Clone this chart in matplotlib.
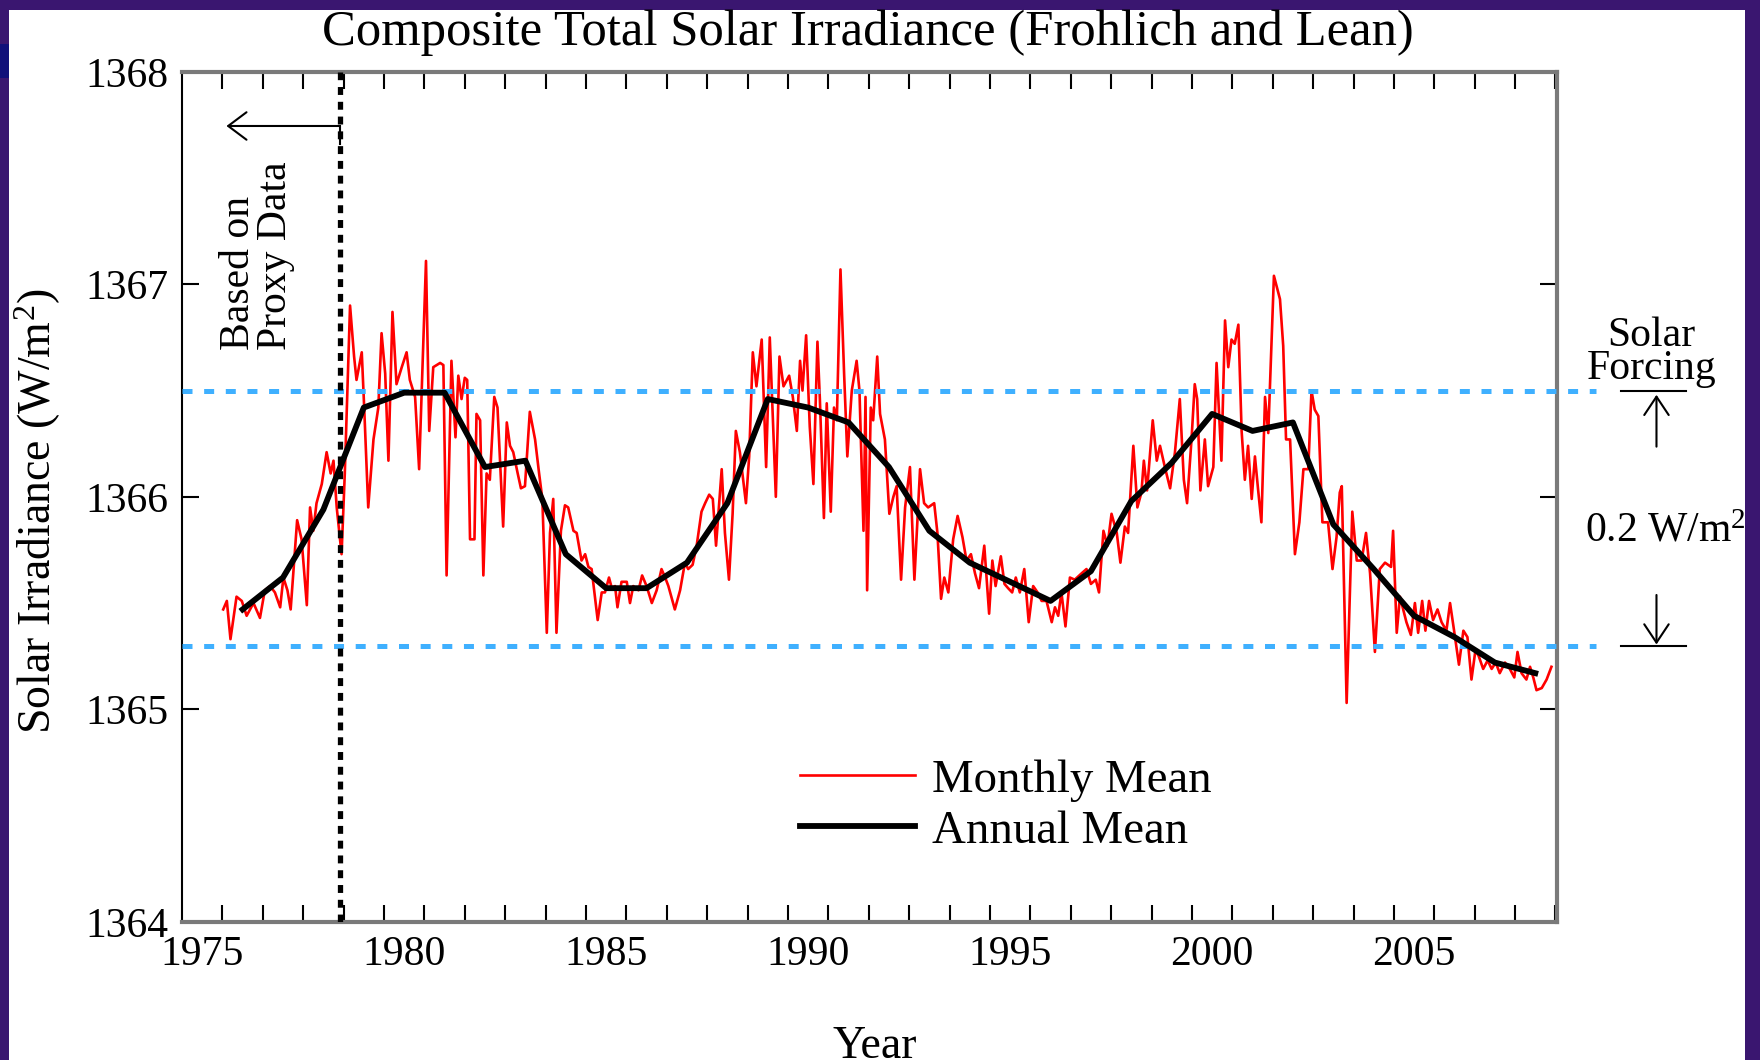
import numpy as np
import matplotlib
matplotlib.use('Agg')
import matplotlib.pyplot as plt
from matplotlib.patches import Rectangle

plt.rcParams['font.family'] = ['Liberation Serif', 'DejaVu Serif']
plt.rcParams['mathtext.fontset'] = 'custom'
plt.rcParams['mathtext.rm'] = 'Liberation Serif'
plt.rcParams['mathtext.it'] = 'Liberation Serif:italic'

# annual means (W/m^2)
annual_year = list(range(1976, 2009))
annual_tsi = [1365.47, 1365.62, 1365.94, 1366.42, 1366.49, 1366.49, 1366.14, 1366.17,
              1365.73, 1365.57, 1365.57, 1365.69, 1365.97, 1366.46, 1366.42, 1366.35,
              1366.14, 1365.84, 1365.69, 1365.60, 1365.51, 1365.65, 1365.98, 1366.16,
              1366.39, 1366.31, 1366.35, 1365.87, 1365.66, 1365.44, 1365.34, 1365.22,
              1365.17]

# monthly means
monthly_year = [
    1975.52, 1975.61, 1975.70, 1975.85, 1975.98, 1976.10, 1976.27, 1976.43, 1976.55, 1976.68,
    1976.80, 1976.93, 1977.01, 1977.11, 1977.19, 1977.35, 1977.46, 1977.59, 1977.67, 1977.75,
    1977.83, 1977.96, 1978.08, 1978.18, 1978.25, 1978.33, 1978.45, 1978.53, 1978.66, 1978.76,
    1978.82, 1978.95, 1979.01, 1979.11, 1979.24, 1979.36, 1979.44, 1979.53, 1979.61, 1979.71,
    1979.81, 1979.94, 1980.06, 1980.14, 1980.27, 1980.37, 1980.54, 1980.62, 1980.72, 1980.89,
    1980.97, 1981.05, 1981.17, 1981.27, 1981.34, 1981.42, 1981.50, 1981.56, 1981.63, 1981.74,
    1981.79, 1981.88, 1981.96, 1982.04, 1982.12, 1982.23, 1982.31, 1982.45, 1982.54, 1982.62,
    1982.70, 1982.81, 1982.89, 1982.99, 1983.11, 1983.24, 1983.34, 1983.42, 1983.53, 1983.61,
    1983.69, 1983.77, 1983.88, 1983.98, 1984.06, 1984.19, 1984.27, 1984.39, 1984.48, 1984.56,
    1984.64, 1984.79, 1984.89, 1984.97, 1985.07, 1985.14, 1985.22, 1985.28, 1985.38, 1985.51,
    1985.59, 1985.67, 1985.80, 1985.89, 1986.00, 1986.13, 1986.25, 1986.37, 1986.46, 1986.54,
    1986.70, 1986.83, 1986.95, 1987.03, 1987.14, 1987.24, 1987.36, 1987.45, 1987.55, 1987.64,
    1987.72, 1987.86, 1987.94, 1988.04, 1988.13, 1988.21, 1988.31, 1988.46, 1988.54, 1988.63,
    1988.72, 1988.85, 1988.96, 1989.05, 1989.20, 1989.29, 1989.39, 1989.53, 1989.62, 1989.72,
    1989.80, 1989.86, 1989.95, 1990.04, 1990.13, 1990.23, 1990.29, 1990.39, 1990.46, 1990.56,
    1990.64, 1990.71, 1990.80, 1990.89, 1990.97, 1991.08, 1991.20, 1991.27, 1991.37, 1991.42,
    1991.46, 1991.55, 1991.61, 1991.71, 1991.78, 1991.90, 1992.01, 1992.11, 1992.19, 1992.30,
    1992.40, 1992.52, 1992.63, 1992.77, 1992.87, 1992.97, 1993.12, 1993.20, 1993.29, 1993.37,
    1993.47, 1993.59, 1993.70, 1993.82, 1993.92, 1994.03, 1994.13, 1994.23, 1994.36, 1994.48,
    1994.56, 1994.64, 1994.77, 1994.86, 1994.95, 1995.05, 1995.14, 1995.24, 1995.35, 1995.46,
    1995.57, 1995.68, 1995.78, 1995.90, 1996.03, 1996.11, 1996.19, 1996.27, 1996.37, 1996.48,
    1996.60, 1996.77, 1996.89, 1997.00, 1997.12, 1997.20, 1997.31, 1997.41, 1997.51, 1997.64,
    1997.73, 1997.84, 1997.92, 1998.05, 1998.15, 1998.25, 1998.31, 1998.39, 1998.53, 1998.63,
    1998.71, 1998.83, 1998.96, 1999.08, 1999.20, 1999.30, 1999.38, 1999.49, 1999.57, 1999.63,
    1999.71, 1999.82, 1999.90, 2000.03, 2000.11, 2000.23, 2000.32, 2000.40, 2000.48, 2000.56,
    2000.65, 2000.73, 2000.81, 2000.89, 2000.98, 2001.06, 2001.14, 2001.22, 2001.31, 2001.39,
    2001.53, 2001.68, 2001.76, 2001.83, 2001.93, 2002.05, 2002.16, 2002.26, 2002.38, 2002.46,
    2002.54, 2002.63, 2002.73, 2002.87, 2002.98, 2003.08, 2003.16, 2003.21, 2003.33, 2003.47,
    2003.58, 2003.70, 2003.81, 2003.91, 2004.03, 2004.15, 2004.28, 2004.43, 2004.48, 2004.57,
    2004.65, 2004.81, 2004.92, 2005.02, 2005.10, 2005.20, 2005.28, 2005.37, 2005.47, 2005.58,
    2005.68, 2005.80, 2005.89, 2005.99, 2006.11, 2006.22, 2006.32, 2006.42, 2006.52, 2006.60,
    2006.71, 2006.82, 2006.92, 2007.02, 2007.12, 2007.25, 2007.37, 2007.48, 2007.56, 2007.66,
    2007.78, 2007.87, 2007.95, 2008.03, 2008.16, 2008.28, 2008.40]
monthly_tsi = [
    1365.47, 1365.51, 1365.33, 1365.53, 1365.51, 1365.44, 1365.50, 1365.43, 1365.56, 1365.58,
    1365.55, 1365.48, 1365.62, 1365.56, 1365.47, 1365.89, 1365.80, 1365.49, 1365.95, 1365.84,
    1365.97, 1366.06, 1366.21, 1366.11, 1366.17, 1365.95, 1365.73, 1366.11, 1366.90, 1366.66,
    1366.55, 1366.68, 1366.42, 1365.95, 1366.27, 1366.42, 1366.77, 1366.58, 1366.17, 1366.87,
    1366.53, 1366.61, 1366.68, 1366.55, 1366.47, 1366.13, 1367.11, 1366.31, 1366.61, 1366.63,
    1366.62, 1365.63, 1366.64, 1366.28, 1366.57, 1366.46, 1366.56, 1366.55, 1365.80, 1365.80,
    1366.39, 1366.36, 1365.63, 1366.11, 1366.08, 1366.47, 1366.42, 1365.86, 1366.35, 1366.24,
    1366.21, 1366.11, 1366.04, 1366.05, 1366.40, 1366.27, 1366.11, 1365.99, 1365.36, 1365.83,
    1365.99, 1365.36, 1365.84, 1365.96, 1365.95, 1365.84, 1365.83, 1365.70, 1365.73, 1365.67,
    1365.66, 1365.42, 1365.55, 1365.55, 1365.62, 1365.57, 1365.58, 1365.48, 1365.60, 1365.60,
    1365.50, 1365.58, 1365.56, 1365.63, 1365.58, 1365.50, 1365.56, 1365.66, 1365.62, 1365.58,
    1365.47, 1365.56, 1365.69, 1365.66, 1365.68, 1365.77, 1365.93, 1365.97, 1366.01, 1365.99,
    1365.77, 1366.13, 1365.83, 1365.61, 1365.92, 1366.31, 1366.21, 1365.97, 1366.19, 1366.68,
    1366.52, 1366.74, 1366.14, 1366.75, 1366.00, 1366.66, 1366.52, 1366.57, 1366.47, 1366.31,
    1366.64, 1366.50, 1366.76, 1366.33, 1366.06, 1366.73, 1366.46, 1365.90, 1366.44, 1365.93,
    1366.42, 1366.36, 1367.07, 1366.58, 1366.19, 1366.50, 1366.64, 1366.50, 1365.84, 1366.47,
    1365.56, 1366.42, 1366.36, 1366.66, 1366.39, 1366.27, 1365.92, 1366.00, 1366.05, 1365.61,
    1365.95, 1366.14, 1365.61, 1366.13, 1365.97, 1365.95, 1365.97, 1365.83, 1365.52, 1365.62,
    1365.55, 1365.80, 1365.91, 1365.81, 1365.70, 1365.73, 1365.64, 1365.57, 1365.77, 1365.45,
    1365.70, 1365.58, 1365.72, 1365.59, 1365.57, 1365.55, 1365.62, 1365.55, 1365.66, 1365.41,
    1365.58, 1365.55, 1365.51, 1365.51, 1365.41, 1365.48, 1365.44, 1365.55, 1365.39, 1365.62,
    1365.61, 1365.64, 1365.66, 1365.59, 1365.61, 1365.55, 1365.84, 1365.77, 1365.92, 1365.83,
    1365.69, 1365.86, 1365.83, 1366.24, 1365.95, 1366.02, 1366.17, 1366.03, 1366.36, 1366.17,
    1366.24, 1366.14, 1366.04, 1366.21, 1366.46, 1366.08, 1365.97, 1366.27, 1366.53, 1366.46,
    1366.03, 1366.27, 1366.05, 1366.14, 1366.63, 1366.17, 1366.83, 1366.61, 1366.74, 1366.72,
    1366.81, 1366.31, 1366.08, 1366.24, 1365.99, 1366.19, 1366.03, 1365.88, 1366.47, 1366.30,
    1367.04, 1366.93, 1366.71, 1366.27, 1366.27, 1365.73, 1365.88, 1366.13, 1366.13, 1366.50,
    1366.41, 1366.38, 1365.88, 1365.88, 1365.66, 1365.81, 1366.02, 1366.05, 1365.03, 1365.93,
    1365.70, 1365.70, 1365.83, 1365.64, 1365.27, 1365.66, 1365.69, 1365.67, 1365.84, 1365.36,
    1365.53, 1365.41, 1365.35, 1365.50, 1365.36, 1365.51, 1365.37, 1365.51, 1365.42, 1365.47,
    1365.41, 1365.37, 1365.50, 1365.37, 1365.21, 1365.37, 1365.34, 1365.14, 1365.28, 1365.25,
    1365.19, 1365.23, 1365.19, 1365.22, 1365.17, 1365.22, 1365.19, 1365.15, 1365.27, 1365.17,
    1365.14, 1365.20, 1365.15, 1365.09, 1365.10, 1365.14, 1365.20]

forcing_levels = [1366.5, 1365.3]
proxy_end = 1978.4
xtick_years = [1975, 1980, 1985, 1990, 1995, 2000, 2005]
ytick_vals = [1364, 1365, 1366, 1367, 1368]

W, H = 1760, 1060
fig = plt.figure(figsize=(W / 100, H / 100), dpi=100)
fig.patch.set_facecolor('#3a1670')
fig.add_artist(Rectangle((9 / W, 0), (1745 - 9) / W, 1 - 10 / H, transform=fig.transFigure,
                         facecolor='white', edgecolor='none', zorder=-2))
fig.add_artist(Rectangle((0, 1 - 78 / H), 9 / W, 34 / H, transform=fig.transFigure,
                         facecolor='#10107a', edgecolor='none', zorder=-2))

ax = fig.add_axes([182 / W, 1 - 921.8 / H, (1556.7 - 182) / W, 850 / H])
ax.set_xlim(1974.5, 2008.53)
ax.set_ylim(1364, 1368)

ax.plot(monthly_year, monthly_tsi, color='red', lw=1.9, label='Monthly Mean', zorder=2)
ax.plot(annual_year, annual_tsi, color='black', lw=4.2, label='Annual Mean', zorder=4)

blue = '#3fb0ff'
for lvl in forcing_levels:
    ax.plot([1974.5, 2009.5], [lvl, lvl], color=blue, lw=3.6, dashes=(2.0, 2.33),
            clip_on=False, zorder=3)

ax.plot([proxy_end, proxy_end], [1364, 1368], color='black', lw=3.8, dashes=(1.5, 1.3), zorder=5)
ax.plot([proxy_end, proxy_end], [1367.745, 1367.66], color='black', lw=1.5, zorder=5)
ax.annotate('', xy=(1975.6, 1367.745), xytext=(proxy_end, 1367.745),
            arrowprops=dict(arrowstyle='->,head_length=0.6,head_width=0.45', lw=1.5,
                            color='black', shrinkA=0, shrinkB=0, mutation_scale=22))
ax.text(1976.37, 1366.69, 'Based on\nProxy Data', rotation=90, ha='center', va='bottom',
        multialignment='left', fontsize=30, linespacing=0.95)

# solar forcing annotation to the right of the frame
for lvl in forcing_levels:
    ax.plot([2010.13, 2011.73], [lvl, lvl], color='black', lw=1.5, clip_on=False)
ax.annotate('', xy=(2011.0, forcing_levels[0] - 0.02), xytext=(2011.0, 1366.236),
            annotation_clip=False,
            arrowprops=dict(arrowstyle='->,head_length=0.6,head_width=0.4', lw=1.5,
                            color='black', shrinkA=0, shrinkB=0, mutation_scale=22))
ax.annotate('', xy=(2011.0, forcing_levels[1] + 0.005), xytext=(2011.0, 1365.538),
            annotation_clip=False,
            arrowprops=dict(arrowstyle='->,head_length=0.6,head_width=0.4', lw=1.5,
                            color='black', shrinkA=0, shrinkB=0, mutation_scale=22))
ax.text(2010.88, 1366.556, 'Solar\nForcing', ha='center', va='baseline', fontsize=30,
        linespacing=0.8, clip_on=False)
ax.text(2009.23, 1365.792, '0.2 W/m$^2$', ha='left', va='baseline', fontsize=30, clip_on=False)

for side in ['top', 'bottom', 'right']:
    ax.spines[side].set_color('#7a7a7a')
    ax.spines[side].set_linewidth(3)
ax.spines['left'].set_color('black')
ax.spines['left'].set_linewidth(1.5)

ax.set_xticks(xtick_years)
ax.set_xticks(np.arange(1975.5, 2008.6, 1.0), minor=True)
ax.set_yticks(ytick_vals)
ax.set_xticklabels([str(y) for y in xtick_years])
ax.set_yticklabels([str(v) for v in ytick_vals])
ax.tick_params(axis='x', which='major', length=0, pad=10, labelsize=30)
ax.tick_params(axis='x', which='minor', direction='in', top=True, bottom=True,
               length=12, width=1.5, color='black')
ax.tick_params(axis='y', direction='in', left=True, right=True, length=12, width=1.5,
               labelsize=30, pad=10)

ax.legend(loc='center left', bbox_to_anchor=(0.4496, 0.1364), frameon=False, fontsize=33.7,
          handlelength=2.45, handletextpad=0.37, labelspacing=0.17, borderpad=0,
          borderaxespad=0)

fig.text(868 / W, 1 - 45 / H, 'Composite Total Solar Irradiance (Frohlich and Lean)',
         ha='center', va='baseline', fontsize=36.5)
fig.text(38 / W, 1 - 511 / H, 'Solar Irradiance (W/m$^2$)', rotation=90, ha='center',
         va='center', fontsize=33)
fig.text(875 / W, 1 - 1025 / H, 'Year', ha='center', va='top', fontsize=33)

fig.savefig('out.png', dpi=100, facecolor=fig.get_facecolor())
